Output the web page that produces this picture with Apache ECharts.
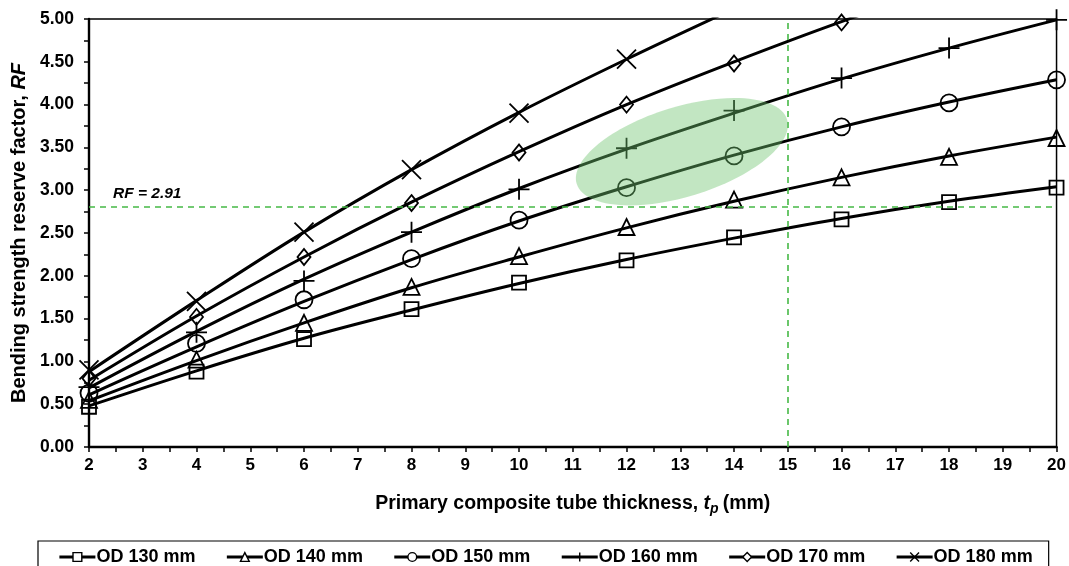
<!DOCTYPE html>
<html><head><meta charset="utf-8">
<script src="https://cdn.jsdelivr.net/npm/echarts@6/dist/echarts.min.js"></script>
<style>html,body{margin:0;padding:0;background:#fff}#c{width:1069px;height:566px}</style>
</head><body><div id="c"></div>
<script>
// ---- data ----
const names = ['OD 130 mm','OD 140 mm','OD 150 mm','OD 160 mm','OD 170 mm','OD 180 mm'];
const thickness = [2,4,6,8,10,12,14,16,18,20];
// data points (markers)
const pts130 = [0.47,0.88,1.26,1.61,1.92,2.18,2.45,2.66,2.86,3.03];
const pts140 = [0.55,1.02,1.45,1.87,2.23,2.57,2.89,3.15,3.39,3.61];
const pts150 = [0.63,1.21,1.72,2.20,2.65,3.03,3.40,3.74,4.02,4.29];
const pts160 = [0.70,1.34,1.94,2.51,3.01,3.49,3.93,4.31,4.66,4.99];
const pts170 = [0.80,1.52,2.22,2.85,3.44,4.00,4.48,4.96];
const pts180 = [0.90,1.70,2.51,3.24,3.90,4.53];
// fitted curves
const fit130 = [0.48,0.89,1.27,1.60,1.91,2.19,2.44,2.67,2.87,3.04];
const fit140 = [0.54,1.01,1.45,1.86,2.22,2.56,2.87,3.15,3.40,3.62];
const fit150 = [0.61,1.17,1.70,2.19,2.64,3.04,3.41,3.74,4.03,4.29];
const fit160 = [0.69,1.35,1.96,2.51,3.02,3.48,3.90,4.30,4.66,4.99];
const fit170 = [0.78,1.53,2.22,2.86,3.45,4.00,4.50,4.97,5.40];
const fit180 = [0.88,1.71,2.51,3.24,3.91,4.53,5.12];
const refRF = 2.81, refRFLabel = 'RF = 2.91', refT = 15;
const yTicks = {min:0, max:5, step:0.5};
const xTicks = {min:2, max:20, step:1};
const highlight = {x:13.03, y:3.45};

const ptsAll = [pts130,pts140,pts150,pts160,pts170,pts180];
const fitAll = [fit130,fit140,fit150,fit160,fit170,fit180];
const symbols = ['rect','triangle','circle','path://M0,10H20M10,0V20','diamond','path://M0,0L20,20M20,0L0,20'];
const sizes = [14,16,17,21,[13,16],19];

const pair = arr => arr.map((v,i)=>[thickness[i],v]);
const txt = {fontFamily:"'Liberation Sans', Arial, sans-serif", fontWeight:'bold', color:'#000'};

const series = [];
fitAll.forEach((f,i)=>{
  const s = {name:'fit'+i, type:'line', data:pair(f), smooth:0.35, symbol:'none',
    lineStyle:{color:'#000', width:3}, z:2, clip:true, silent:true};
  if(i===0){
    s.markLine = {symbol:'none', silent:true, animation:false,
      lineStyle:{color:'#46b946', type:[6,5], width:1.6},
      data:[
        {yAxis:refRF, label:{show:true, position:'insideStartTop', formatter:refRFLabel,
          ...txt, fontStyle:'italic', fontSize:15.5, distance:[24,5]}},
        {xAxis:refT, label:{show:false}}
      ]};
  }
  series.push(s);
});
ptsAll.forEach((p,i)=>{
  series.push({name:names[i], type:'line', data:pair(p), symbol:symbols[i], symbolSize:sizes[i],
    showSymbol:true, lineStyle:{width:0, opacity:0},
    itemStyle:{color:'rgba(255,255,255,0)', borderColor:'#000', borderWidth:1.8}, z:3, silent:true});
});

const chart = echarts.init(document.getElementById('c'), null, {renderer:'canvas'});
chart.setOption({
  animation:false,
  grid:{left:89, right:11, top:19, bottom:119, show:true, borderColor:'#000', borderWidth:1.5, backgroundColor:'transparent'},
  xAxis:{type:'value', min:xTicks.min, max:xTicks.max, interval:xTicks.step,
    axisLine:{lineStyle:{color:'#000', width:2.4}},
    axisTick:{show:true, length:5, lineStyle:{color:'#000', width:1.5}},
    minorTick:{show:true, splitNumber:2, length:5, lineStyle:{color:'#000', width:1.5}},
    splitLine:{show:false},
    axisLabel:{...txt, fontSize:17, margin:10},
    name:'Primary composite tube thickness, {i|t}{sub|p}(mm)', nameLocation:'middle', nameGap:45,
    nameTextStyle:{...txt, fontSize:19.5, rich:{
      i:{...txt, fontSize:19.5, fontStyle:'italic'},
      sub:{...txt, fontSize:14, fontStyle:'italic', padding:[10,4,0,0]}}}
  },
  yAxis:{type:'value', min:yTicks.min, max:yTicks.max, interval:yTicks.step,
    axisLine:{lineStyle:{color:'#000', width:2.4}},
    axisTick:{show:true, length:5, lineStyle:{color:'#000', width:1.5}},
    minorTick:{show:true, splitNumber:2, length:5, lineStyle:{color:'#000', width:1.5}},
    splitLine:{show:false},
    axisLabel:{...txt, fontSize:17.5, margin:15, formatter:v=>v.toFixed(2)},
    name:'Bending strength reserve factor, {i|RF}', nameLocation:'middle', nameGap:59,
    nameTextStyle:{...txt, fontSize:20, rich:{i:{...txt, fontSize:20, fontStyle:'italic'}}}
  },
  legend:{data:names, left:38, top:541, width:1030, orient:'horizontal',
    borderColor:'#000', borderWidth:1.2, padding:[7,16,10,20], itemGap:30,
    itemWidth:36, itemHeight:11,
    textStyle:{fontFamily:"'Liberation Sans', Arial, sans-serif", fontWeight:'bold', fontSize:18, color:'#000', padding:[0,0,0,-4]},
    lineStyle:{color:'#000', width:2.8, opacity:1, type:'solid'},
    itemStyle:{color:'#fff', borderColor:'#000', borderWidth:1.4}
  },
  series:series
});

function placeEllipse(){
  const c = chart.convertToPixel({gridIndex:0}, [highlight.x, highlight.y]);
  chart.setOption({graphic:[{type:'ellipse', x:c[0], y:c[1], rotation:17*Math.PI/180,
    shape:{cx:0, cy:0, rx:110, ry:45}, style:{fill:'rgba(110,195,110,0.42)'}, z:10, silent:true}]});
}
placeEllipse();
</script></body></html>
